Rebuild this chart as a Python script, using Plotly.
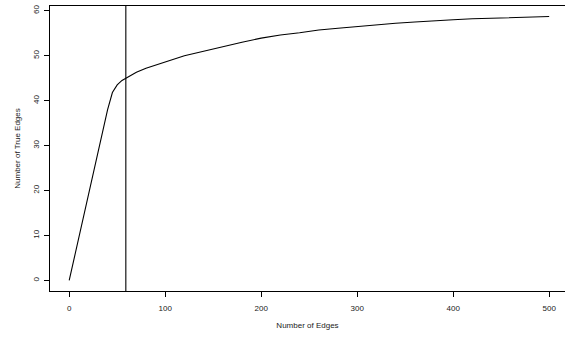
import plotly.graph_objects as go

edges = [0, 10, 20, 30, 40, 45, 50, 55, 60, 70, 80, 90, 100, 110, 120, 130, 140, 150,
         160, 170, 180, 200, 220, 240, 260, 280, 300, 320, 340, 360, 380, 400, 420,
         440, 460, 480, 500]
true_edges = [0, 9.5, 19, 28.5, 38, 41.8, 43.5, 44.5, 45.1, 46.3, 47.2, 47.9, 48.7,
              49.4, 50.0, 50.5, 51.0, 51.6, 52.1, 52.6, 53.0, 53.9, 54.6, 55.1, 55.7,
              56.1, 56.5, 56.9, 57.2, 57.5, 57.8, 58.0, 58.2, 58.3, 58.45, 58.55, 58.7]
cutoff = 59
x_ticks = [0, 100, 200, 300, 400, 500]
y_ticks = [0, 10, 20, 30, 40, 50, 60]

fig = go.Figure()
fig.add_trace(go.Scatter(x=edges, y=true_edges, mode="lines",
                         line=dict(color="black", width=1.1), showlegend=False))
fig.add_vline(x=cutoff, line=dict(color="black", width=1.1))

font = dict(family="Liberation Sans, Arial, sans-serif", size=8, color="#222")
fig.update_layout(
    width=565, height=338,
    margin=dict(l=50, r=0, t=6, b=47, autoexpand=False),
    plot_bgcolor="white", paper_bgcolor="white",
    font=font,
    xaxis=dict(range=[-20, 516.5], tickvals=x_ticks, showgrid=False, zeroline=False,
               showline=True, mirror=True, linecolor="black", linewidth=1.1,
               ticks="outside", ticklen=5, tickcolor="black", automargin=False,
               ticklabelstandoff=4,
               title=dict(text="Number of Edges", standoff=10, font=font)),
    yaxis=dict(range=[-2.35, 61.05], tickvals=y_ticks, showgrid=False, zeroline=False,
               showline=True, mirror=False, linecolor="black", linewidth=1.1,
               ticks="outside", ticklen=5, tickcolor="black", tickangle=-90,
               automargin=False, ticklabelstandoff=2,
               title=dict(text="Number of True Edges", standoff=9, font=font)),
)
fig.write_html("out.html", config={"displayModeBar": False},
               post_script="document.body.style.margin='0';document.body.style.overflow='hidden';")
